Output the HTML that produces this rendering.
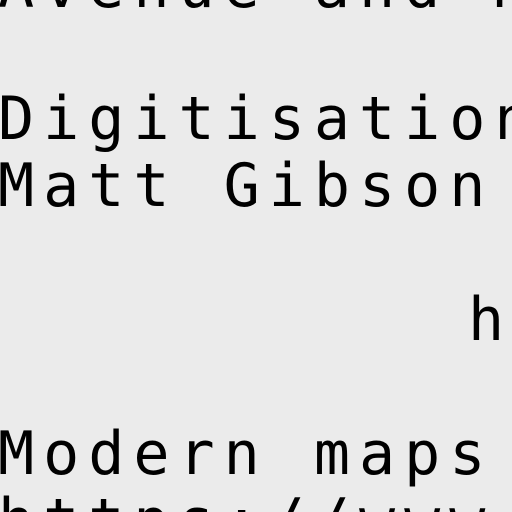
<!DOCTYPE html>
<html><head><style>
html,body{margin:0;padding:0;width:512px;height:512px;overflow:hidden;background:#ebebeb;}
#c{position:relative;width:512px;height:512px;overflow:hidden;}
.t{position:absolute;left:-2px;font-family:"DejaVu Sans Mono","Liberation Mono",monospace;font-size:60px;line-height:67px;letter-spacing:9px;color:#000;white-space:pre;}
</style></head><body><div id="c">
<div class="t" style="top:-46px">Avenue and M</div>
<div class="t" style="top:86px">Digitisation</div>
<div class="t" style="top:153px">Matt Gibson</div>
<div class="t" style="top:287px;left:468px">h</div>
<div class="t" style="top:421px">Modern maps</div>
<div class="t" style="top:488px">https://www.</div>
</div></body></html>
